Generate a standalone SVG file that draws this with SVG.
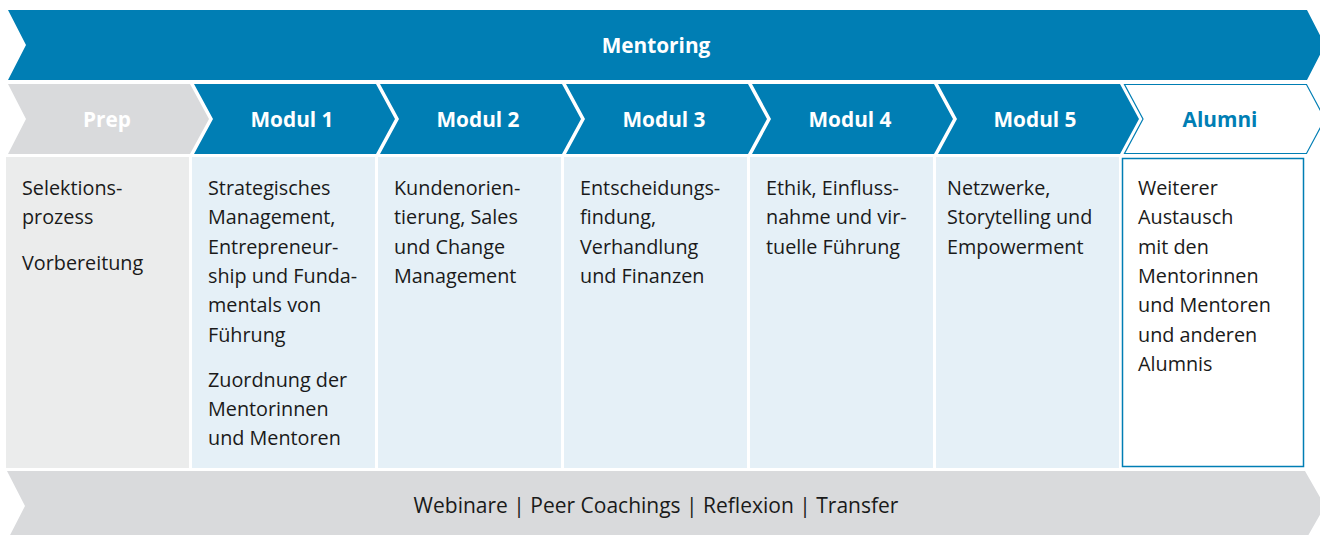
<svg xmlns="http://www.w3.org/2000/svg" width="1320" height="535" viewBox="0 0 1320 535">
<style>
.blue{fill:#007eb4}
.gray{fill:#d9dadc}
.hd{font-family:"Open Sans","Noto Sans",sans-serif;font-weight:700;font-size:20.8px;fill:#fff;text-anchor:middle}
.bd{font-family:"Open Sans","Noto Sans",sans-serif;font-size:19.8px;fill:#1a1a1a}
.colg{fill:#ebecec}
.colb{fill:#e5f0f7}
</style>
<rect width="1320" height="535" fill="#fff"/>
<g id="mentoring">
<polygon class="blue" points="8,10 1307,10 1325,45 1307,80 8,80 26,45"/>
<text class="hd" x="656" y="53">Mentoring</text>
</g>
<g id="prep">
<polygon class="gray" points="8,84 190,84 209,119 190,154 8,154 26,119"/>
<text class="hd" x="107" y="127">Prep</text>
<rect class="colg" x="6" y="157" width="183" height="311"/>
<text class="bd"><tspan x="22" y="195">Selektions-</tspan><tspan x="22" y="224">prozess</tspan><tspan x="22" y="270">Vorbereitung</tspan></text>
</g>
<g id="modul1">
<polygon class="blue" points="194,84 376,84 395,119 376,154 194,154 213,119"/>
<text class="hd" x="292" y="127">Modul 1</text>
<rect class="colb" x="192" y="157" width="183" height="311"/>
<text class="bd"><tspan x="208" y="195">Strategisches</tspan><tspan x="208" y="224">Management,</tspan><tspan x="208" y="254">Entrepreneur-</tspan><tspan x="208" y="283">ship und Funda-</tspan><tspan x="208" y="312">mentals von</tspan><tspan x="208" y="342">Führung</tspan><tspan x="208" y="387">Zuordnung der</tspan><tspan x="208" y="416">Mentorinnen</tspan><tspan x="208" y="445">und Mentoren</tspan></text>
</g>
<g id="modul2">
<polygon class="blue" points="380,84 562,84 581,119 562,154 380,154 399,119"/>
<text class="hd" x="478" y="127">Modul 2</text>
<rect class="colb" x="378" y="157" width="183" height="311"/>
<text class="bd"><tspan x="394" y="195">Kundenorien-</tspan><tspan x="394" y="224">tierung, Sales</tspan><tspan x="394" y="254">und Change</tspan><tspan x="394" y="283">Management</tspan></text>
</g>
<g id="modul3">
<polygon class="blue" points="566,84 748,84 767,119 748,154 566,154 585,119"/>
<text class="hd" x="664" y="127">Modul 3</text>
<rect class="colb" x="564" y="157" width="183" height="311"/>
<text class="bd"><tspan x="580" y="195">Entscheidungs-</tspan><tspan x="580" y="224">findung,</tspan><tspan x="580" y="254">Verhandlung</tspan><tspan x="580" y="283">und Finanzen</tspan></text>
</g>
<g id="modul4">
<polygon class="blue" points="752,84 934,84 953,119 934,154 752,154 771,119"/>
<text class="hd" x="850" y="127">Modul 4</text>
<rect class="colb" x="750" y="157" width="183" height="311"/>
<text class="bd"><tspan x="766" y="195">Ethik, Einfluss-</tspan><tspan x="766" y="224">nahme und vir-</tspan><tspan x="766" y="254">tuelle Führung</tspan></text>
</g>
<g id="modul5">
<polygon class="blue" points="938,84 1120,84 1139,119 1120,154 938,154 957,119"/>
<text class="hd" x="1035" y="127">Modul 5</text>
<rect class="colb" x="936" y="157" width="183" height="311"/>
<text class="bd"><tspan x="947" y="195">Netzwerke,</tspan><tspan x="947" y="224">Storytelling und</tspan><tspan x="947" y="254">Empowerment</tspan></text>
</g>
<g id="alumni">
<polygon points="1124.5,84.5 1306.5,84.5 1325,119 1306.5,153.5 1124.5,153.5 1143,119" fill="#fff" stroke="#007eb4" stroke-width="1.2"/>
<text class="hd" x="1220" y="127" style="fill:#007eb4">Alumni</text>
<rect x="1122.5" y="158.5" width="181" height="308" fill="#fff" stroke="#007eb4" stroke-width="1.5"/>
<text class="bd"><tspan x="1138" y="195">Weiterer</tspan><tspan x="1138" y="224">Austausch</tspan><tspan x="1138" y="254">mit den</tspan><tspan x="1138" y="283">Mentorinnen</tspan><tspan x="1138" y="312">und Mentoren</tspan><tspan x="1138" y="342">und anderen</tspan><tspan x="1138" y="371">Alumnis</tspan></text>
</g>
<g id="methods">
<polygon class="gray" points="7,471 1305,471 1325,506 1305,541 7,541 25,506"/>
<text class="bd" x="656" y="513" style="font-size:21px;text-anchor:middle">Webinare | Peer Coachings | Reflexion | Transfer</text>
</g>
<g id="connectors"></g>
</svg>
